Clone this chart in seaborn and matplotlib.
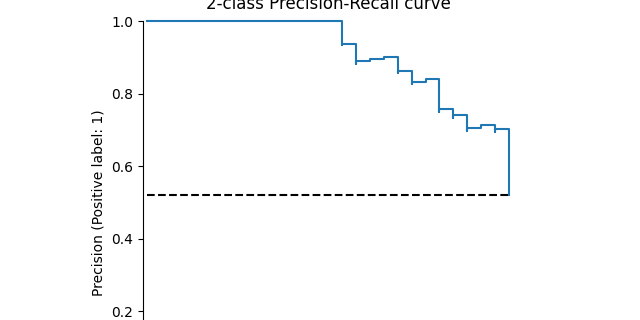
import matplotlib
matplotlib.use("Agg")
import matplotlib.pyplot as plt
import seaborn as sns
import pandas as pd

# Step-curve vertices (sklearn ordering: recall decreasing)
recall = [1.0, 1.0, 0.9615, 0.9615, 0.9231, 0.8846, 0.8846, 0.8846, 0.8462, 0.8462,
          0.8077, 0.8077, 0.8077, 0.8077, 0.7692, 0.7308, 0.7308, 0.6923, 0.6923,
          0.6538, 0.6154, 0.5769, 0.5769, 0.5385, 0.5385, 0.0]
precision = [0.52, 0.7027, 0.6944, 0.7143, 0.7059, 0.6970, 0.7188, 0.7419, 0.7333, 0.7586,
             0.75, 0.7778, 0.8077, 0.84, 0.8333, 0.8261, 0.8636, 0.8571, 0.9,
             0.8947, 0.8889, 0.8824, 0.9375, 0.9333, 1.0, 1.0]
chance_x = [0.0, 1.0]
chance_y = [0.52, 0.52]

title = "2-class Precision-Recall curve"
ylabel = "Precision (Positive label: 1)"
xlabel = "Recall (Positive label: 1)"

df = pd.DataFrame({"Recall": recall, "Precision": precision})
chance = pd.DataFrame({"x": chance_x, "y": chance_y})

fig = plt.figure(figsize=(6.4, 3.2), dpi=100)
ax = fig.add_axes([143.2 / 640, (320 - 17.6 - 369.6) / 320, 369.6 / 640, 369.6 / 320])

sns.lineplot(data=df, x="Recall", y="Precision", sort=False, estimator=None,
             drawstyle="steps-post", color="#1f77b4", linewidth=1.5, ax=ax)
sns.lineplot(data=chance, x="x", y="y", sort=False, estimator=None,
             color="black", linestyle="--", linewidth=1.5, ax=ax)

ax.set_xlim(-0.01, 1.01)
ax.set_ylim(-0.01, 1.01)
ax.set_aspect("equal")
ax.set_title(title, fontsize=12)
ax.set_ylabel(ylabel, fontsize=10)
ax.set_xlabel(xlabel, fontsize=10)
for s in ["top", "right"]:
    ax.spines[s].set_visible(False)
ax.spines["left"].set_bounds(0, 1)
ax.spines["bottom"].set_bounds(0, 1)

fig.savefig("out.png", dpi=100)
